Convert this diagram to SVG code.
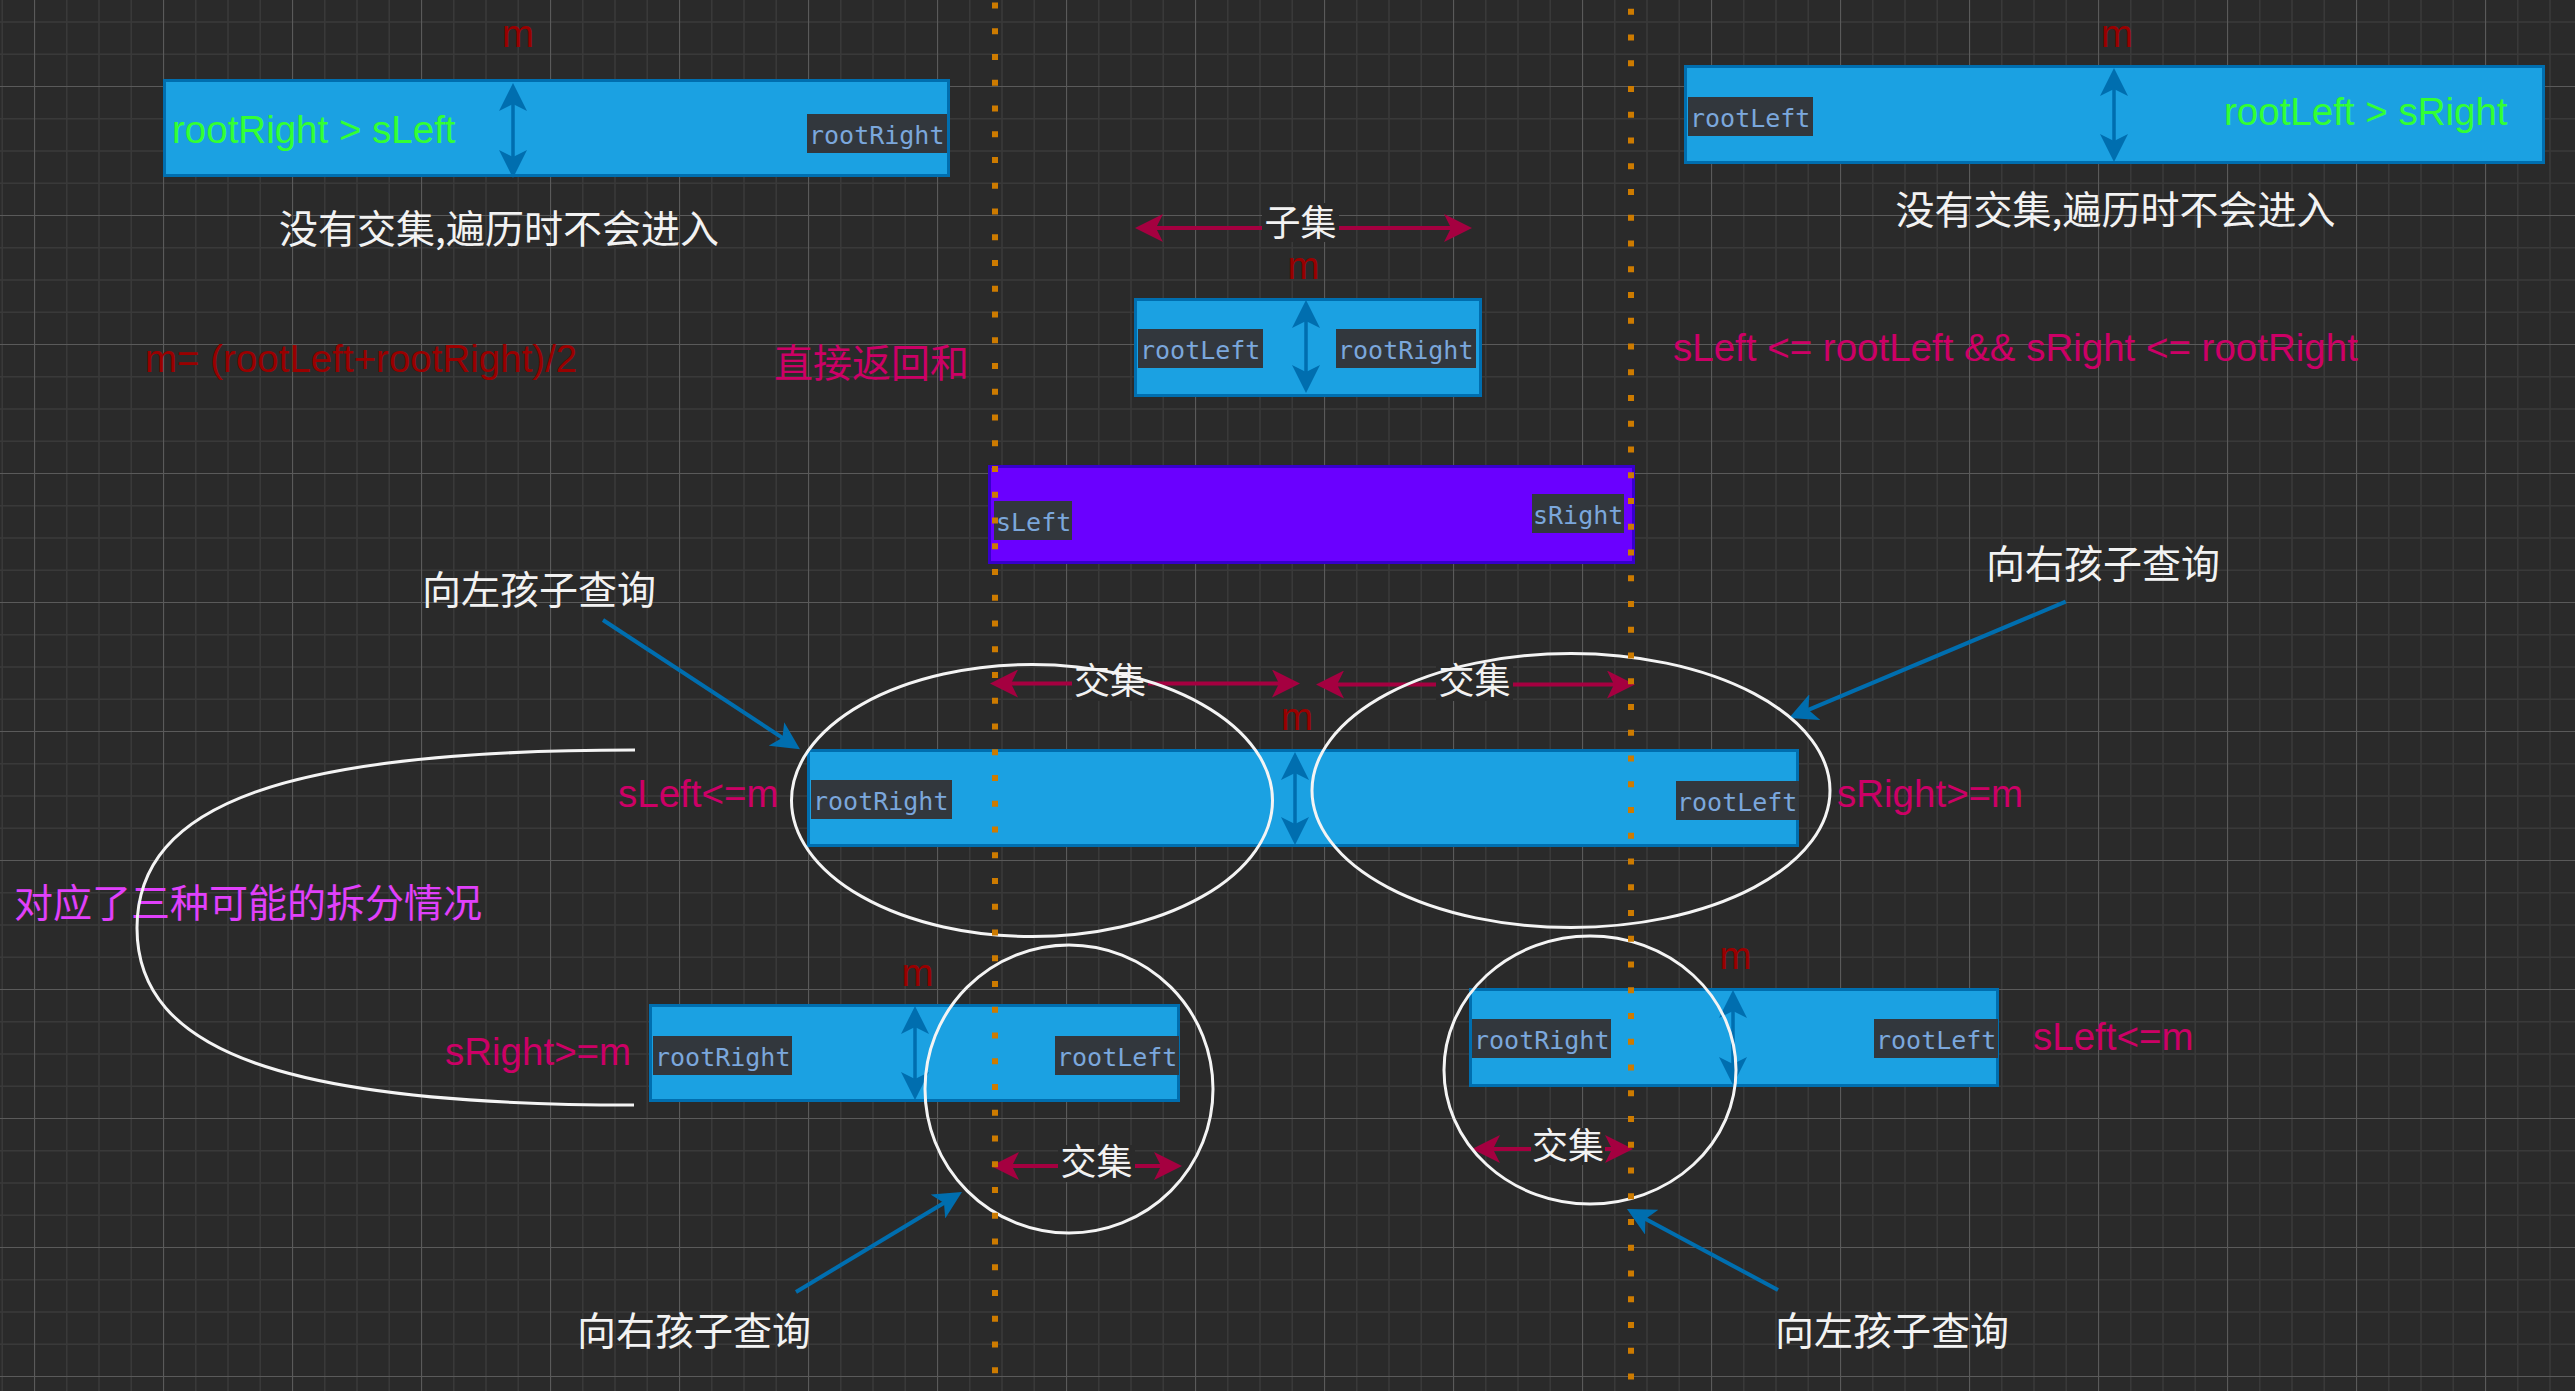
<svg xmlns="http://www.w3.org/2000/svg" width="2575" height="1391" viewBox="0 0 2575 1391">
<style>
.blue{fill:#1ba1e2;stroke:#006eaf;stroke-width:3}
.purple{fill:#6a00ff;stroke:#3700cc;stroke-width:3}
.lbl{fill:#32373d}
.mono{font-family:"DejaVu Sans Mono","Liberation Mono",monospace;font-size:25px;fill:#7ba7dc}
.lat{font-family:"Liberation Sans",Arial,sans-serif;font-size:38.5px}
.cjk{font-family:"Noto Sans CJK SC","Noto Sans",sans-serif;font-size:39px;fill:#f2f2f2}
.cjks{font-family:"Noto Sans CJK SC","Noto Sans",sans-serif;font-size:36px;fill:#f2f2f2}
.green{fill:#33ff33}
.crim{fill:#cc0066}
.dred{fill:#990000}
.mag{fill:#e040fb}
.ell{fill:none;stroke:#f4f4f4;stroke-width:3}
.carr{fill:none;stroke:#a50040;stroke-width:4;marker-start:url(#ch);marker-end:url(#ch)}
.varr{fill:none;stroke:#006eaf;stroke-width:3.5;marker-start:url(#bh);marker-end:url(#bh)}
.parr{fill:none;stroke:#006eaf;stroke-width:4;marker-end:url(#bh)}
.bgl{fill:#2a2a2a}
.dots{fill:none;stroke:#cd7b00;stroke-width:6;stroke-dasharray:6 19.75}
</style>
<defs>
<pattern id="grid" width="129" height="129" patternUnits="userSpaceOnUse" x="34" y="86">
<rect width="129" height="129" fill="#2a2a2a"/>
<path d="M32.75,0V129M65,0V129M97.25,0V129M0,32.75H129M0,65H129M0,97.25H129" stroke="#393939" stroke-width="1.5"/>
<path d="M0.5,0V129M0,0.5H129" stroke="#5a5a5a" stroke-width="1.2"/>
</pattern>
<marker id="ch" viewBox="0 0 28 28" refX="18" refY="14" markerWidth="28" markerHeight="28" markerUnits="userSpaceOnUse" orient="auto-start-reverse"><path d="M0,0 L28,14 L0,28 L7,14 Z" fill="#a50040"/></marker>
<marker id="bh" viewBox="0 0 28 28" refX="18" refY="14" markerWidth="28" markerHeight="28" markerUnits="userSpaceOnUse" orient="auto-start-reverse"><path d="M0,0 L28,14 L0,28 L7,14 Z" fill="#006eaf"/></marker>
</defs>
<rect width="2575" height="1391" fill="url(#grid)"/>

<g id="node-top-left">
<rect class="blue" x="164.5" y="80.5" width="784" height="95"/>
<text class="lat green" x="172" y="143">rootRight &gt; sLeft</text>
<rect class="lbl" x="807" y="114" width="140" height="39"/>
<text class="mono" x="809" y="143.5">rootRight</text>
</g>
<g id="node-top-middle">
<rect class="blue" x="1135.5" y="299.5" width="345" height="96"/>
<rect class="lbl" x="1138" y="329" width="125" height="39"/>
<text class="mono" x="1140" y="358.5">rootLeft</text>
<rect class="lbl" x="1336" y="329" width="140" height="39"/>
<text class="mono" x="1338" y="358.5">rootRight</text>
</g>
<g id="node-top-right">
<rect class="blue" x="1685.5" y="66.5" width="858" height="96"/>
<rect class="lbl" x="1688" y="97" width="125" height="39"/>
<text class="mono" x="1690" y="126.5">rootLeft</text>
<text class="lat green" x="2224" y="125">rootLeft &gt; sRight</text>
</g>
<g id="node-query">
<rect class="purple" x="989.5" y="466.5" width="644" height="96"/>
<rect class="lbl" x="994" y="501" width="78" height="39"/>
<text class="mono" x="996" y="530.5">sLeft</text>
<rect class="lbl" x="1532" y="494" width="92" height="39"/>
<text class="mono" x="1533" y="523.5">sRight</text>
</g>
<g id="node-middle">
<rect class="blue" x="808.5" y="750.5" width="989" height="95"/>
<rect class="lbl" x="811" y="780" width="141" height="39"/>
<text class="mono" x="813" y="809.5">rootRight</text>
<rect class="lbl" x="1676" y="781" width="123" height="39"/>
<text class="mono" x="1677" y="810.5">rootLeft</text>
</g>
<g id="node-bottom-left">
<rect class="blue" x="650.5" y="1005.5" width="528" height="95"/>
<rect class="lbl" x="653" y="1036" width="139" height="39"/>
<text class="mono" x="655" y="1065.5">rootRight</text>
<rect class="lbl" x="1055" y="1036" width="124" height="39"/>
<text class="mono" x="1057" y="1065.5">rootLeft</text>
</g>
<g id="node-bottom-right">
<rect class="blue" x="1470.5" y="989.5" width="527" height="96"/>
<rect class="lbl" x="1472" y="1019" width="139" height="39"/>
<text class="mono" x="1474" y="1048.5">rootRight</text>
<rect class="lbl" x="1874" y="1019" width="124" height="39"/>
<text class="mono" x="1876" y="1048.5">rootLeft</text>
</g>

<g id="texts">
<text class="lat dred" x="518" y="47" text-anchor="middle">m</text>
<text class="lat dred" x="1303.5" y="279" text-anchor="middle">m</text>
<text class="lat dred" x="2117" y="47" text-anchor="middle">m</text>
<text class="lat dred" x="1297" y="730" text-anchor="middle">m</text>
<text class="lat dred" x="917.5" y="986" text-anchor="middle">m</text>
<text class="lat dred" x="1735.5" y="969" text-anchor="middle">m</text>
<text class="lat dred" x="145" y="372">m= (rootLeft+rootRight)/2</text>
<text class="cjk crim" x="774" y="377">直接返回和</text>
<text class="lat crim" x="1673" y="361">sLeft &lt;= rootLeft &amp;&amp; sRight &lt;= rootRight</text>
<text class="cjk" x="499" y="243" text-anchor="middle">没有交集,遍历时不会进入</text>
<text class="cjk" x="2115.5" y="224" text-anchor="middle">没有交集,遍历时不会进入</text>
<text class="cjk" x="539" y="604" text-anchor="middle">向左孩子查询</text>
<text class="cjk" x="2103" y="578" text-anchor="middle">向右孩子查询</text>
<text class="cjk" x="694" y="1345" text-anchor="middle">向右孩子查询</text>
<text class="cjk" x="1892" y="1345" text-anchor="middle">向左孩子查询</text>
<text class="cjk mag" x="14" y="917">对应了三种可能的拆分情况</text>
<text class="lat crim" x="618" y="807">sLeft&lt;=m</text>
<text class="lat crim" x="1837" y="807">sRight&gt;=m</text>
<text class="lat crim" x="445" y="1065">sRight&gt;=m</text>
<text class="lat crim" x="2033" y="1050">sLeft&lt;=m</text>
</g>

<g id="connectors">
<path class="varr" d="M513,93V168"/>
<path class="varr" d="M1306,310V383"/>
<path class="varr" d="M2114,78V152"/>
<path class="varr" d="M1295,762V835"/>
<path class="varr" d="M915,1016V1090"/>
<path class="varr" d="M1733,1000V1075"/>
<path class="carr" d="M1145,228H1462"/>
<path class="carr" d="M1000,683.5H1290"/>
<path class="carr" d="M1326,684.5H1625"/>
<path class="carr" d="M1001,1166H1172"/>
<path class="carr" d="M1482,1149H1623"/>
<path class="parr" d="M603,620L791.6,743.8"/>
<path class="parr" d="M2065.7,601.7L1798.2,714.1"/>
<path class="parr" d="M796,1292L953.4,1197.2"/>
<path class="parr" d="M1778,1290L1635.8,1213.7"/>
<path d="M635,750C286,750 137,803 137,928C137,1052 286,1105 634,1105" fill="none" stroke="#f4f4f4" stroke-width="3"/>
</g>

<g id="arrow-labels">
<rect class="bgl" x="1262" y="203" width="77" height="39"/>
<text class="cjks" x="1300.5" y="236" text-anchor="middle">子集</text>
<rect class="bgl" x="1072" y="664" width="76" height="37"/>
<text class="cjks" x="1110" y="694" text-anchor="middle">交集</text>
<rect class="bgl" x="1436" y="664" width="77" height="37"/>
<text class="cjks" x="1474.5" y="694" text-anchor="middle">交集</text>
<rect class="bgl" x="1058" y="1145" width="77" height="37"/>
<text class="cjks" x="1096.5" y="1175" text-anchor="middle">交集</text>
<rect class="bgl" x="1531" y="1128" width="74" height="37"/>
<text class="cjks" x="1568" y="1159" text-anchor="middle">交集</text>
</g>

<g id="groups">
<ellipse class="ell" cx="1032" cy="800.5" rx="240.5" ry="136"/>
<ellipse class="ell" cx="1571" cy="790.5" rx="259" ry="137"/>
<ellipse class="ell" cx="1069" cy="1089" rx="144" ry="144"/>
<ellipse class="ell" cx="1590" cy="1070" rx="146" ry="134"/>
</g>

<g id="dotted-lines">
<path class="dots" d="M995,2.4V1391"/>
<path class="dots" d="M1631,8.7V1391"/>
</g>
</svg>
